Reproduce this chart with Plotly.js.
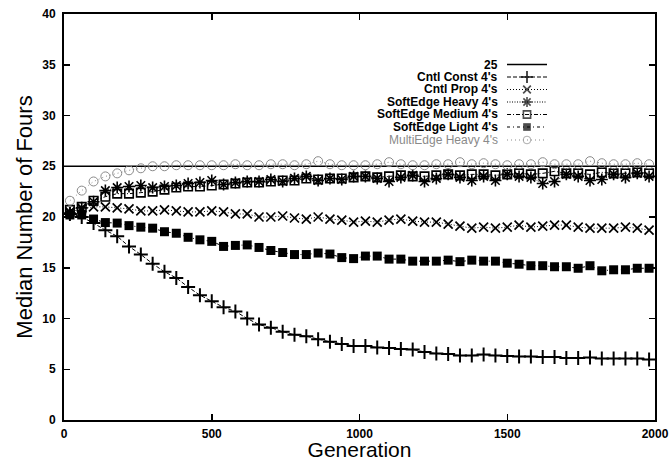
<!DOCTYPE html>
<html>
<head>
<meta charset="utf-8">
<script src="https://cdn.plot.ly/plotly-3.0.1.min.js"></script>
<style>
html,body{margin:0;padding:0;background:#fff;}
#chart{width:671px;height:461px;}
</style>
</head>
<body>
<div id="chart"></div>
<script>
// ---- data ----
const generations = [20,60,100,140,180,220,260,300,340,380,420,460,500,540,580,620,660,700,740,780,820,860,900,940,980,1020,1060,1100,1140,1180,1220,1260,1300,1340,1380,1420,1460,1500,1540,1580,1620,1660,1700,1740,1780,1820,1860,1900,1940,1980];
const refLineX = [0, 2000];
const refLineY = [25, 25];
const cntlConst = [20.3,20.0,19.4,18.7,18.1,17.1,16.3,15.4,14.6,14.0,13.1,12.3,11.7,11.1,10.7,10.0,9.4,9.1,8.7,8.4,8.25,7.95,7.7,7.5,7.3,7.3,7.15,7.1,7.0,6.95,6.7,6.55,6.5,6.35,6.35,6.45,6.35,6.3,6.25,6.25,6.2,6.2,6.1,6.1,6.15,6.05,6.05,6.05,6.05,5.95];
const cntlProp = [20.5,20.8,21.0,21.0,20.9,20.8,20.6,20.6,20.7,20.6,20.5,20.5,20.6,20.5,20.3,20.3,20.0,20.0,20.1,19.9,19.8,20.0,19.8,19.7,19.5,19.6,19.5,19.7,19.8,19.6,19.5,19.5,19.3,19.1,18.9,19.0,18.9,19.0,19.2,19.0,19.1,19.2,19.2,19.0,18.9,18.9,18.9,19.0,18.9,18.7];
const softHeavy = [20.4,20.9,21.5,22.6,22.9,23.0,23.1,22.9,23.0,23.1,23.3,23.4,23.6,23.2,23.4,23.5,23.5,23.7,23.5,23.8,24.0,23.6,23.8,23.7,24.0,24.0,23.8,23.5,23.9,24.1,23.5,23.8,24.2,23.9,23.6,24.0,23.6,24.2,24.0,23.9,23.3,23.5,24.2,24.0,23.6,23.7,24.2,23.9,24.3,24.0];
const softMedium = [20.7,21.0,21.6,22.0,22.3,22.3,22.4,22.5,22.7,22.9,23.0,23.0,23.1,23.2,23.3,23.4,23.4,23.5,23.6,23.6,23.8,23.7,23.8,23.8,23.9,24.0,23.9,24.0,24.1,24.0,24.0,24.1,24.2,24.1,24.2,24.2,24.1,24.2,24.3,24.2,24.3,24.5,24.3,24.3,24.2,24.4,24.3,24.3,24.4,24.3];
const softLight = [20.2,20.2,19.8,19.45,19.4,19.15,19.0,18.9,18.55,18.4,18.0,17.75,17.6,17.1,17.2,17.25,17.0,16.7,16.5,16.3,16.3,16.45,16.35,16.0,15.9,16.15,16.15,15.85,15.85,15.65,15.65,15.65,15.75,15.6,15.75,15.65,15.65,15.45,15.35,15.2,15.2,15.1,15.1,14.95,15.2,14.7,14.8,14.8,14.95,14.95];
const multiHeavy = [21.6,22.6,23.5,24.0,24.3,24.6,24.8,25.0,25.0,25.1,25.1,25.1,25.1,25.1,25.2,25.1,25.1,25.2,25.2,25.1,25.2,25.5,25.2,25.1,25.1,25.1,25.2,25.4,25.2,25.1,25.1,25.2,25.2,25.4,25.2,25.3,25.2,25.1,25.2,25.2,25.4,25.2,25.2,25.2,25.5,25.3,25.2,25.2,25.3,25.2];
const seriesLabels = ["25","Cntl Const 4's","Cntl Prop 4's","SoftEdge Heavy 4's","SoftEdge Medium 4's","SoftEdge Light 4's","MultiEdge Heavy 4's"];
const xTickVals = [0,500,1000,1500,2000];
const yTickVals = [0,5,10,15,20,25,30,35,40];

// ---- styles ----
const GREY = '#8a8a8a';
const styles = [
  {color:'#000', dash:'solid', sym:null},
  {color:'#000', dash:'4px,2px', sym:'cross-thin-open', size:10, lw:2},
  {color:'#000', dash:'1px,2px', sym:'x-thin-open', size:9, lw:1.7},
  {color:'#000', dash:'1px,1.5px', sym:'asterisk-open', size:10, lw:1.6},
  {color:'#000', dash:'4px,2px,1px,2px', sym:'square-open', size:8.5, lw:1.6},
  {color:'#000', dash:'3px,3px,1px,3px', sym:'square', size:9, lw:0},
  {color:GREY, dash:'1px,3px', sym:'circle-open', size:9, lw:1}
];
const seriesY = [null, cntlConst, cntlProp, softHeavy, softMedium, softLight, multiHeavy];

const traces = [];
traces.push({x:refLineX, y:refLineY, type:'scatter', mode:'lines', line:{color:'#000', width:1.3}, showlegend:false, hoverinfo:'skip'});
for (let i=1;i<seriesY.length;i++){
  const s = styles[i];
  traces.push({
    x:generations, y:seriesY[i], type:'scatter', mode:'lines+markers', showlegend:false,
    line:{color:s.color, width:1, dash:s.dash},
    marker:{symbol:s.sym, size:s.size, color:s.color, line:{color:s.color, width:s.lw}}
  });
}

// ---- custom legend (text right-aligned, sample on the right) ----
const W=671, H=461, L=64, R=655, T=14, B=420;
const px2x = p => (p-L)/(R-L);
const py2y = p => (B-p)/(B-T);
const legendRows = [64.5,77,89.5,102,114.5,127,140];
const textRight = 499, sx0 = 507, sx1 = 547;
const annotations = [];
for (let i=0;i<seriesLabels.length;i++){
  const s = styles[i];
  const yy = py2y(legendRows[i]);
  annotations.push({xref:'paper', yref:'paper', x:px2x(textRight), y:yy, xanchor:'right', yanchor:'middle',
    text: i===6 ? seriesLabels[i] : '<b>'+seriesLabels[i]+'</b>', showarrow:false, borderpad:0,
    font:{family:'Liberation Sans, Arial, sans-serif', size:12, color: i===6 ? GREY : '#000'}});
  const xs = [px2x(sx0), px2x((sx0+sx1)/2), px2x(sx1)];
  const tr = {x:xs, y:[yy,yy,yy], xaxis:'x2', yaxis:'y2', type:'scatter', showlegend:false, hoverinfo:'skip',
    line:{color:s.color, width: i===0 ? 1.5 : 1, dash:s.dash}};
  if (s.sym){
    tr.mode='lines+markers';
    tr.marker={symbol:s.sym, size:[0,s.size*0.85,0], color:s.color, line:{color:s.color, width:s.lw}};
  } else tr.mode='lines';
  traces.push(tr);
}

const tickFont = {family:'Liberation Sans, Arial, sans-serif', size:12, color:'#000', weight:'bold'};
const layout = {
  width:W, height:H,
  margin:{l:L, r:W-R, t:T, b:H-B, pad:0},
  paper_bgcolor:'#fff', plot_bgcolor:'#fff',
  showlegend:false,
  xaxis:{range:[0,2000], tickvals:xTickVals, ticks:'inside', ticklen:6, tickwidth:1.5, tickcolor:'#000',
    showline:true, linecolor:'#000', linewidth:2, mirror:'allticks', showgrid:false, zeroline:false,
    tickfont:tickFont, ticklabelstandoff:2,
    title:{text:'Generation', font:{family:'Liberation Sans, Arial, sans-serif', size:21, color:'#000'}, standoff:2}},
  yaxis:{range:[0,40], tickvals:yTickVals, ticks:'inside', ticklen:6, tickwidth:1.5, tickcolor:'#000',
    showline:true, linecolor:'#000', linewidth:2, mirror:'allticks', showgrid:false, zeroline:false,
    tickfont:tickFont, ticklabelstandoff:4,
    title:{text:'Median Number of Fours', font:{family:'Liberation Sans, Arial, sans-serif', size:22, color:'#000'}, standoff:4}},
  xaxis2:{overlaying:'x', range:[0,1], visible:false, fixedrange:true},
  yaxis2:{overlaying:'y', range:[0,1], visible:false, fixedrange:true},
  annotations:annotations
};
Plotly.newPlot('chart', traces, layout, {staticPlot:true, displayModeBar:false});
</script>
</body>
</html>
